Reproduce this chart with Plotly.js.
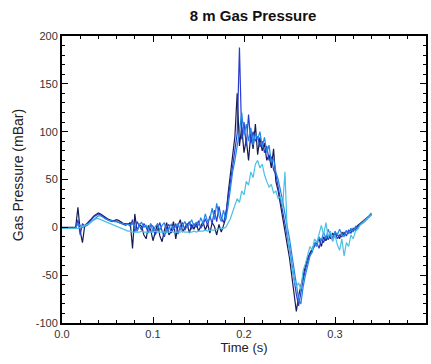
<!DOCTYPE html>
<html>
<head>
<meta charset="utf-8">
<script src="https://cdn.plot.ly/plotly-3.0.1.min.js"></script>
<style>html,body{margin:0;padding:0;background:#fff;}#chart{width:431px;height:364px;}</style>
</head>
<body>
<div id="chart"></div>
<script>
// Time samples (s)
const time = [
0.0000,0.0025,0.0050,0.0075,0.0100,0.0125,0.0150,0.0175,0.0200,0.0225,
0.0250,0.0275,0.0300,0.0325,0.0350,0.0375,0.0400,0.0425,0.0450,0.0475,
0.0500,0.0525,0.0550,0.0575,0.0600,0.0625,0.0650,0.0675,0.0700,0.0725,
0.0750,0.0775,0.0800,0.0825,0.0850,0.0875,0.0900,0.0925,0.0950,0.0975,
0.1000,0.1025,0.1050,0.1075,0.1100,0.1125,0.1150,0.1175,0.1200,0.1225,
0.1250,0.1275,0.1300,0.1325,0.1350,0.1375,0.1400,0.1425,0.1450,0.1475,
0.1500,0.1525,0.1550,0.1575,0.1600,0.1625,0.1650,0.1675,0.1700,0.1725,
0.1750,0.1775,0.1800,0.1825,0.1850,0.1875,0.1900,0.1925,0.1950,0.1975,
0.2000,0.2025,0.2050,0.2075,0.2100,0.2125,0.2150,0.2175,0.2200,0.2225,
0.2250,0.2275,0.2300,0.2325,0.2350,0.2375,0.2400,0.2425,0.2450,0.2475,
0.2500,0.2525,0.2550,0.2575,0.2600,0.2625,0.2650,0.2675,0.2700,0.2725,
0.2750,0.2775,0.2800,0.2825,0.2850,0.2875,0.2900,0.2925,0.2950,0.2975,
0.3000,0.3025,0.3050,0.3075,0.3100,0.3125,0.3150,0.3175,0.3200,0.3225,
0.3250,0.3275,0.3300,0.3325,0.3350,0.3375,0.3400];

// Gas pressure (mBar) per gauge
const navy = [
0,0,0,0,0,0,0,21,-4,-16,
2,4,6,9,12,14,15,14,12,10,
9,8,7,7,8,7,5,4,4,3,
5,-22,14,-4,3,1,-8,-12,2,-3,
-14,-6,4,-9,-15,-3,5,-8,-4,6,
-12,2,8,-5,0,4,-6,3,-2,5,
-4,2,6,-3,4,-6,5,1,-8,3,
-5,2,10,35,55,72,95,140,85,105,
78,92,70,98,82,108,76,94,80,88,
70,76,62,82,48,38,25,12,-2,-18,
-32,-50,-68,-88,-72,-60,-48,-40,-32,-26,
-22,-18,-15,-12,-20,-10,-14,-8,-12,-6,
-10,-7,-12,-5,-8,-4,-6,-2,-4,0,
2,4,5,8,9,12,14];

const royal = [
-1,-1,-1,-1,-1,-1,-1,8,-8,4,
1,3,5,8,11,13,14,13,11,9,
8,7,6,7,6,5,4,3,2,4,
1,8,-5,6,2,-3,4,0,-6,3,
1,-8,-2,5,-4,-10,0,3,-6,-1,
4,-7,1,5,-3,2,6,-2,4,0,
7,-1,3,9,2,12,4,18,6,22,
10,5,15,30,48,65,80,98,188,92,
110,85,118,88,100,90,95,84,90,78,
85,70,74,60,55,42,30,18,6,-8,
-22,-38,-55,-70,-82,-66,-55,-44,-36,-28,
-24,-20,-16,-22,-12,-16,-9,-13,-7,-11,
-6,-12,-8,-10,-5,-9,-3,-6,-1,-3,
1,3,4,6,8,11,13];

const azure = [
-1,-1,-1,-1,-1,-1,-1,4,2,0,
1,2,4,6,9,11,12,12,10,9,
8,7,7,6,6,5,4,4,3,3,
2,4,1,-4,3,5,0,2,-2,4,
-5,1,3,-3,2,5,-6,0,3,-2,
1,4,-3,2,6,0,3,8,1,5,
2,10,4,14,6,9,20,8,25,12,
6,18,8,22,40,58,70,85,100,120,
96,108,90,104,86,98,92,100,84,94,
78,86,68,72,58,50,40,28,14,2,
-12,-28,-45,-62,-75,-80,-62,-50,-40,-30,
-26,-16,-20,-10,-14,-5,-12,-2,-9,-14,
-4,-8,-2,-7,-10,-3,-7,-1,-5,1,
-1,3,5,7,9,12,15];

const cyan = [
-1,-1,-1,-1,-1,-1,-1,-1,0,1,
2,3,4,6,8,9,9,8,7,6,
5,4,3,2,1,0,-1,-2,-3,-4,
-4,-5,-5,-5,-5,-4,-5,-5,-5,-5,
-5,-4,-5,-5,-5,-5,-5,-5,-4,-5,
-5,-5,-5,-4,-5,-5,-5,-5,-4,-5,
-4,-4,-4,-3,-4,-3,-3,-3,-2,-2,
-1,-1,0,4,9,16,22,30,26,38,
34,48,44,58,52,66,70,62,66,55,
48,42,45,36,38,30,32,22,58,-5,
-25,-40,-55,-62,-58,-65,-45,-38,-28,-20,
-24,-12,-16,-6,2,-8,5,-10,-4,-15,
-8,-18,-24,-12,-30,-16,-20,-8,-12,-4,
-2,2,4,6,8,11,13];

const xTickVals = [0, 0.1, 0.2, 0.3, 0.4];
const xTickText = ["0.0", "0.1", "0.2", "0.3", "0.4"];
const yTickVals = [200, 150, 100, 50, 0, -50, -100];
const yTickText = ["200", "150", "100", "50", "0", "-50", "-100"];

const series = [
  {y: navy,  color: "#161c52"},
  {y: royal, color: "#2a3ccc"},
  {y: azure, color: "#1f86e6"},
  {y: cyan,  color: "#4cc0e4"}
];

const traces = series.map(s => ({
  x: time, y: s.y, type: "scatter", mode: "lines",
  line: {color: s.color, width: 1.2},
  hoverinfo: "skip", showlegend: false
}));

const fontFam = "Liberation Sans, Arial, Helvetica, sans-serif";
const axisCommon = {
  showline: true, linecolor: "#000", linewidth: 2, mirror: "allticks",
  ticks: "inside", ticklen: 6, tickwidth: 1, tickcolor: "#000",
  showgrid: false, zeroline: false,
  tickfont: {family: fontFam, size: 11, color: "#333"}
};

const layout = {
  width: 431, height: 364,
  margin: {l: 62, r: 5, t: 36, b: 41},
  paper_bgcolor: "#fff", plot_bgcolor: "#fff",
  title: {text: "<b>8 m Gas Pressure</b>", font: {family: fontFam, size: 15, color: "#111"},
          xref: "paper", x: 0.525, xanchor: "center", yref: "container", y: 0.958, yanchor: "middle"},
  xaxis: Object.assign({}, axisCommon, {
    range: [0, 0.4], tickvals: xTickVals, ticktext: xTickText,
    minor: {ticks: "inside", ticklen: 3, tickcolor: "#000", dtick: 0.02, tick0: 0, showgrid: false},
    title: {text: "Time (s)", font: {family: fontFam, size: 13, color: "#222"}, standoff: 2}
  }),
  yaxis: Object.assign({}, axisCommon, {
    range: [-100, 200], tickvals: yTickVals, ticktext: yTickText,
    minor: {ticks: "inside", ticklen: 3, tickcolor: "#000", dtick: 10, tick0: 0, showgrid: false}
  }),
  annotations: [{
    text: "Gas Pressure (mBar)", textangle: -90, showarrow: false,
    xref: "paper", yref: "paper", x: -0.121, y: 0.515, xanchor: "center", yanchor: "middle",
    font: {family: fontFam, size: 14, color: "#222"}
  }]
};

Plotly.newPlot("chart", traces, layout, {displayModeBar: false, staticPlot: true});
</script>
</body>
</html>
